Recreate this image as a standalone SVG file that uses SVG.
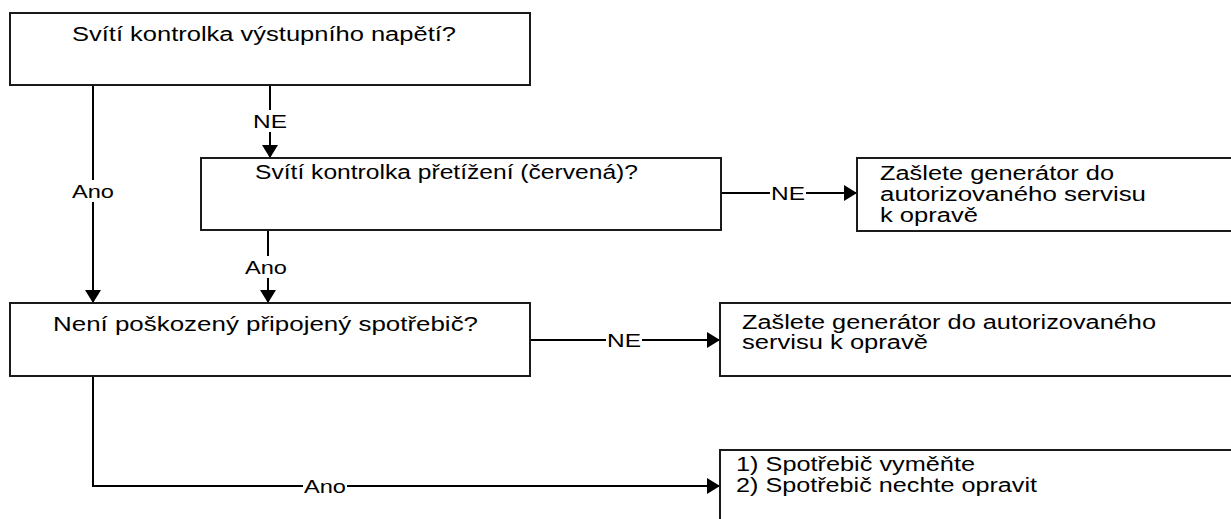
<svg xmlns="http://www.w3.org/2000/svg" width="1231" height="519" viewBox="0 0 1231 519">
<defs>
<marker id="arr" markerUnits="userSpaceOnUse" markerWidth="14" markerHeight="16" refX="13" refY="8" orient="auto">
<path d="M0,0 L13,8 L0,16 Z" fill="#000"/>
</marker>
<style>
.box{fill:#fff;stroke:#1a1a1a;stroke-width:2}
.ln{fill:none;stroke:#000;stroke-width:2}
.t{font-family:"Liberation Sans",Arial,sans-serif;font-size:20px;fill:#000}
.lb{font-family:"Liberation Sans",Arial,sans-serif;font-size:19px;fill:#000;text-anchor:middle;dominant-baseline:central}
</style>
</defs>
<rect width="1231" height="519" fill="#fff"/>
<g id="connectors">
<path class="ln" d="M93,86 V180"/>
<path class="ln" d="M93,202 V303" marker-end="url(#arr)"/>
<text class="lb" x="93" y="191" textLength="42" lengthAdjust="spacingAndGlyphs">Ano</text>
<path class="ln" d="M270,86 V110"/>
<path class="ln" d="M270,132 V158" marker-end="url(#arr)"/>
<text class="lb" x="270" y="121" textLength="34" lengthAdjust="spacingAndGlyphs">NE</text>
<path class="ln" d="M268,231 V256"/>
<path class="ln" d="M268,278 V303" marker-end="url(#arr)"/>
<text class="lb" x="266" y="267" textLength="42" lengthAdjust="spacingAndGlyphs">Ano</text>
<path class="ln" d="M722,193 H770"/>
<path class="ln" d="M806,193 H857" marker-end="url(#arr)"/>
<text class="lb" x="788" y="193" textLength="34" lengthAdjust="spacingAndGlyphs">NE</text>
<path class="ln" d="M531,340 H606"/>
<path class="ln" d="M642,340 H720" marker-end="url(#arr)"/>
<text class="lb" x="624" y="340" textLength="34" lengthAdjust="spacingAndGlyphs">NE</text>
<path class="ln" d="M93,377 V486 H303"/>
<path class="ln" d="M347,486 H720" marker-end="url(#arr)"/>
<text class="lb" x="325" y="486" textLength="42" lengthAdjust="spacingAndGlyphs">Ano</text>
</g>
<g id="n1">
<rect class="box" x="10" y="13" width="520" height="72"/>
<text class="t" x="72" y="41" textLength="384" lengthAdjust="spacingAndGlyphs">Svítí kontrolka výstupního napětí?</text>
</g>
<g id="n2">
<rect class="box" x="201" y="158" width="520" height="72"/>
<text class="t" x="255" y="179" textLength="383" lengthAdjust="spacingAndGlyphs">Svítí kontrolka přetížení (červená)?</text>
</g>
<g id="n3">
<rect class="box" x="10" y="303" width="520" height="73"/>
<text class="t" x="53" y="331" textLength="425" lengthAdjust="spacingAndGlyphs">Není poškozený připojený spotřebič?</text>
</g>
<g id="n4">
<rect class="box" x="857" y="158" width="390" height="73"/>
<text class="t" x="880" y="180" textLength="234" lengthAdjust="spacingAndGlyphs">Zašlete generátor do</text>
<text class="t" x="880" y="201" textLength="266" lengthAdjust="spacingAndGlyphs">autorizovaného servisu</text>
<text class="t" x="880" y="222" textLength="98" lengthAdjust="spacingAndGlyphs">k opravě</text>
</g>
<g id="n5">
<rect class="box" x="720" y="303" width="530" height="73"/>
<text class="t" x="742" y="329" textLength="414" lengthAdjust="spacingAndGlyphs">Zašlete generátor do autorizovaného</text>
<text class="t" x="742" y="349" textLength="186" lengthAdjust="spacingAndGlyphs">servisu k opravě</text>
</g>
<g id="n6">
<rect class="box" x="720" y="450" width="530" height="90"/>
<text class="t" x="736" y="471" textLength="239" lengthAdjust="spacingAndGlyphs">1) Spotřebič vyměňte</text>
<text class="t" x="736" y="492" textLength="301" lengthAdjust="spacingAndGlyphs">2) Spotřebič nechte opravit</text>
</g>
</svg>
